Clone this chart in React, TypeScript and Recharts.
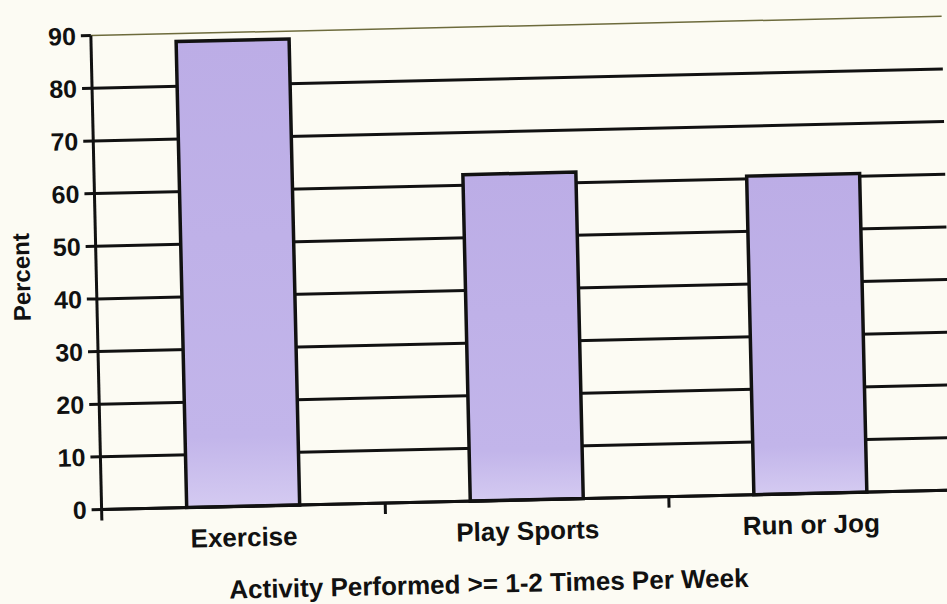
import React from 'react';
import { BarChart, Bar, XAxis, YAxis, CartesianGrid } from 'recharts';

// Data
const categories = ['Exercise', 'Play Sports', 'Run or Jog'];
const percentValues = [88.5, 62, 60.5];
const yTicks = [0, 10, 20, 30, 40, 50, 60, 70, 80, 90];

const data = categories.map((name, i) => ({ name, value: percentValues[i] }));

const FONT = '"Liberation Sans", Arial, Helvetica, sans-serif';
const CHART_W = 958;
const CHART_H = 604;
const MARGIN = { top: 27, right: 10, bottom: 0, left: 0 };
const Y_AXIS_W = 97;
const X_AXIS_H = 103;
const BAND = (CHART_W - MARGIN.left - MARGIN.right - Y_AXIS_W) / categories.length;

// Category label at the centre, tick mark at the band's left boundary
const XTick = (props: any) => {
  const { x, y, payload } = props;
  const bx = x - BAND / 2;
  return (
    <g>
      <line x1={bx} y1={y} x2={bx} y2={y + 11} stroke="#111" strokeWidth={3} />
      <text x={x} y={y + 40} textAnchor="middle" fill="#111" fontSize={26} fontWeight="bold" fontFamily={FONT}>
        {payload.value}
      </text>
    </g>
  );
};

const PercentLabel = (props: any) => {
  const vb = props.viewBox || {};
  const cx = vb.x + 22;
  const cy = vb.y + vb.height / 2 + 3;
  return (
    <text
      x={cx}
      y={cy}
      transform={`rotate(-90, ${cx}, ${cy})`}
      textAnchor="middle"
      dominantBaseline="central"
      fill="#111"
      fontSize={24}
      fontWeight="bold"
      fontFamily={FONT}
    >
      Percent
    </text>
  );
};

const GridLine = (p: any) => {
  const top = Math.abs(p.y1 - p.y) < 1;
  return (
    <line
      x1={p.x1}
      y1={p.y1}
      x2={p.x2}
      y2={p.y2}
      stroke={top ? '#6d6b3c' : '#111'}
      strokeWidth={top ? 1.5 : 3}
    />
  );
};

export default function App() {
  return (
    <div
      style={{
        position: 'fixed',
        left: 0,
        top: 0,
        width: 947,
        height: 604,
        overflow: 'hidden',
        background: '#fcfbf3',
      }}
    >
      <div style={{ width: CHART_W, height: CHART_H, transform: 'rotate(-1.3deg)', transformOrigin: '473.5px 302px' }}>
        <BarChart width={CHART_W} height={CHART_H} data={data} margin={MARGIN} barCategoryGap="30%">
          <defs>
            <linearGradient id="barFill" x1="0" y1="0" x2="0" y2="1">
              <stop offset="0%" stopColor="#bcade6" />
              <stop offset="85%" stopColor="#c2b5ea" />
              <stop offset="100%" stopColor="#d4caf1" />
            </linearGradient>
          </defs>
          <CartesianGrid vertical={false} horizontal={GridLine} />
          <XAxis
            dataKey="name"
            height={X_AXIS_H}
            interval={0}
            tickSize={0}
            tickMargin={0}
            tickLine={false}
            tick={<XTick />}
            axisLine={{ stroke: '#111', strokeWidth: 3 }}
            label={{
              value: 'Activity Performed >= 1-2 Times Per Week',
              position: 'insideBottom',
              offset: 11,
              dx: -40,
              fill: '#111',
              fontSize: 26,
              fontWeight: 'bold',
              fontFamily: FONT,
            }}
          />
          <YAxis
            width={Y_AXIS_W}
            domain={[0, 90]}
            ticks={yTicks}
            interval={0}
            tickSize={10}
            tickMargin={5}
            tick={{ fill: '#111', fontSize: 25, fontWeight: 'bold', fontFamily: FONT }}
            tickLine={{ stroke: '#111', strokeWidth: 3 }}
            axisLine={{ stroke: '#111', strokeWidth: 3 }}
            label={<PercentLabel />}
          />
          <YAxis
            yAxisId="right"
            orientation="right"
            width={0}
            domain={[0, 90]}
            tick={false}
            tickLine={false}
            axisLine={{ stroke: '#6d6b3c', strokeWidth: 1.5 }}
          />
          <Bar dataKey="value" fill="url(#barFill)" stroke="#111" strokeWidth={3.5} isAnimationActive={false} />
        </BarChart>
      </div>
    </div>
  );
}
